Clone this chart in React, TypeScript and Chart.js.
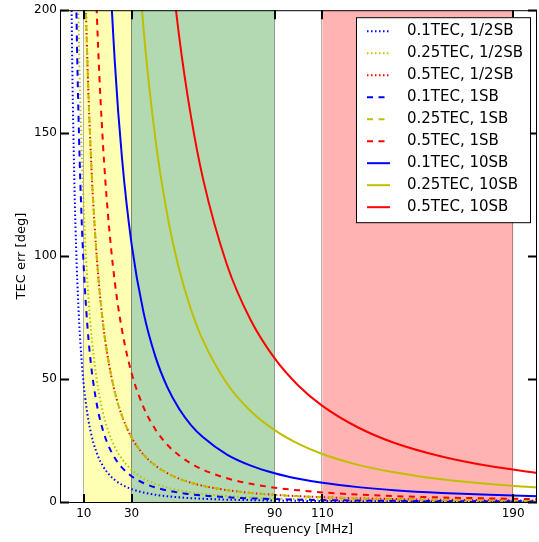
import React, { useEffect, useRef } from "react";
import { Chart, registerables } from "chart.js";
Chart.register(...registerables);

// Frequency samples [MHz]
const FREQ = [3, 4, 5, 6, 7, 8, 9, 10, 11, 12, 13, 14, 16, 18, 20, 23, 26, 30, 35, 40, 45, 50, 55, 60, 70, 80, 90, 100, 110, 125, 140, 160, 180, 200];

// TEC error [deg] per series
const TEC01_HALF = [525.2, 295.4, 189.1, 131.3, 96.5, 73.9, 58.4, 47.3, 39.1, 32.8, 28.0, 24.1, 18.5, 14.6, 11.8, 8.94, 6.99, 5.25, 3.86, 2.95, 2.33, 1.89, 1.56, 1.31, 0.96, 0.74, 0.58, 0.47, 0.39, 0.30, 0.24, 0.18, 0.15, 0.12];
const TEC025_HALF = [1312.9, 738.5, 472.6, 328.2, 241.1, 184.6, 145.9, 118.2, 97.7, 82.1, 69.9, 60.3, 46.2, 36.5, 29.5, 22.3, 17.5, 13.1, 9.65, 7.39, 5.84, 4.73, 3.91, 3.28, 2.41, 1.85, 1.46, 1.18, 0.98, 0.76, 0.60, 0.46, 0.36, 0.30];
const TEC05_HALF = [2625.9, 1477.1, 945.3, 656.5, 482.3, 369.3, 291.8, 236.3, 195.3, 164.1, 139.8, 120.6, 92.3, 72.9, 59.1, 44.7, 35.0, 26.3, 19.3, 14.8, 11.7, 9.45, 7.81, 6.56, 4.82, 3.69, 2.92, 2.36, 1.95, 1.51, 1.21, 0.92, 0.73, 0.59];
const TEC01_1SB = [1050.3, 590.8, 378.1, 262.6, 192.9, 147.7, 116.7, 94.5, 78.1, 65.6, 55.9, 48.2, 36.9, 29.2, 23.6, 17.9, 14.0, 10.5, 7.72, 5.91, 4.67, 3.78, 3.12, 2.63, 1.93, 1.48, 1.17, 0.95, 0.78, 0.60, 0.48, 0.37, 0.29, 0.24];
const TEC025_1SB = [2625.9, 1477.1, 945.3, 656.5, 482.3, 369.3, 291.8, 236.3, 195.3, 164.1, 139.8, 120.6, 92.3, 72.9, 59.1, 44.7, 35.0, 26.3, 19.3, 14.8, 11.7, 9.45, 7.81, 6.56, 4.82, 3.69, 2.92, 2.36, 1.95, 1.51, 1.21, 0.92, 0.73, 0.59];
const TEC05_1SB = [5252, 2954, 1891, 1313, 965, 739, 584, 472.7, 390.6, 328.2, 279.7, 241.2, 184.6, 145.9, 118.2, 89.3, 69.9, 52.5, 38.6, 29.5, 23.3, 18.9, 15.6, 13.1, 9.65, 7.39, 5.84, 4.73, 3.91, 3.02, 2.41, 1.85, 1.46, 1.18];
const TEC01_10SB = [10503, 5908, 3781, 2626, 1929, 1477, 1167, 945.3, 781.2, 656.5, 559.4, 482.3, 369.3, 291.8, 236.3, 178.7, 139.8, 105.0, 77.2, 59.1, 46.7, 37.8, 31.2, 26.3, 19.3, 14.8, 11.7, 9.45, 7.81, 6.05, 4.82, 3.69, 2.92, 2.36];
const TEC025_10SB = [26259, 14771, 9453, 6565, 4823, 3693, 2918, 2363, 1953, 1641, 1398, 1206, 923, 729, 591, 447, 350, 262.6, 192.9, 147.7, 116.7, 94.5, 78.1, 65.6, 48.2, 36.9, 29.2, 23.6, 19.5, 15.1, 12.1, 9.23, 7.29, 5.91];
const TEC05_10SB = [52517, 29541, 18906, 13129, 9646, 7385, 5835, 4727, 3906, 3282, 2797, 2412, 1846, 1459, 1182, 893, 699, 525, 385.8, 295.4, 233.4, 189.1, 156.3, 131.3, 96.5, 73.9, 58.4, 47.3, 39.1, 30.3, 24.1, 18.5, 14.6, 11.8];

const SERIES_LABELS = [
  "0.1TEC, 1/2SB", "0.25TEC, 1/2SB", "0.5TEC, 1/2SB",
  "0.1TEC, 1SB", "0.25TEC, 1SB", "0.5TEC, 1SB",
  "0.1TEC, 10SB", "0.25TEC, 10SB", "0.5TEC, 10SB",
];
const SERIES_VALUES = [
  TEC01_HALF, TEC025_HALF, TEC05_HALF,
  TEC01_1SB, TEC025_1SB, TEC05_1SB,
  TEC01_10SB, TEC025_10SB, TEC05_10SB,
];

// Shaded frequency bands [MHz]
const BAND_START = [10, 30, 110];
const BAND_END = [30, 90, 190];

const X_TICKS = [10, 30, 90, 110, 190];
const Y_TICKS = [0, 50, 100, 150, 200];

const COLORS = ["#0000ff", "#bfbf00", "#ff0000"];
const DASHES = [[1.5, 2.5], [6, 5.5], []];
const BAND_COLORS = ["#ffffb3", "#b3d9b3", "#ffb3b3"];
const FONT = "'DejaVu Sans', sans-serif";

const decor = {
  id: "decor",
  beforeDatasetsDraw(chart: any) {
    const { ctx, chartArea: ca, scales } = chart;
    const x = scales.x;
    ctx.save();
    BAND_START.forEach((s, k) => {
      const x1 = x.getPixelForValue(s);
      const x2 = x.getPixelForValue(BAND_END[k]);
      ctx.fillStyle = BAND_COLORS[k];
      ctx.fillRect(x1, ca.top, x2 - x1, ca.bottom - ca.top);
      ctx.strokeStyle = "rgba(0,0,0,0.3)";
      ctx.lineWidth = 1;
      ctx.beginPath();
      [x1, x2].forEach((px) => {
        const p = Math.round(px) - 0.5;
        ctx.moveTo(p, ca.top);
        ctx.lineTo(p, ca.bottom);
      });
      ctx.stroke();
    });
    ctx.restore();
  },
  afterDatasetsDraw(chart: any) {
    const { ctx, chartArea: ca, scales } = chart;
    const x = scales.x;
    const y = scales.y;
    ctx.save();
    // frame
    ctx.strokeStyle = "#000";
    ctx.lineWidth = 1;
    ctx.strokeRect(ca.left + 0.5, ca.top + 0.5, ca.right - ca.left - 1, ca.bottom - ca.top);
    // inward ticks
    const TL = 9;
    ctx.lineWidth = 2;
    ctx.beginPath();
    X_TICKS.forEach((v) => {
      const px = Math.round(x.getPixelForValue(v));
      ctx.moveTo(px, ca.bottom + 1);
      ctx.lineTo(px, ca.bottom + 1 - TL);
      ctx.moveTo(px, ca.top);
      ctx.lineTo(px, ca.top + TL);
    });
    Y_TICKS.forEach((v) => {
      const py = Math.round(y.getPixelForValue(v)) + 0.5;
      ctx.moveTo(ca.left, py);
      ctx.lineTo(ca.left + TL, py);
      ctx.moveTo(ca.right, py);
      ctx.lineTo(ca.right - TL, py);
    });
    ctx.stroke();

    // legend
    const lx = ca.right - 181;
    const ly = ca.top + 7;
    const lw = 174;
    const lh = 205;
    ctx.fillStyle = "#fff";
    ctx.fillRect(lx, ly, lw, lh);
    ctx.strokeStyle = "#000";
    ctx.lineWidth = 1;
    ctx.strokeRect(lx + 0.5, ly + 0.5, lw, lh);
    ctx.font = `15px ${FONT}`;
    ctx.textBaseline = "middle";
    ctx.textAlign = "left";
    SERIES_LABELS.forEach((lab, k) => {
      const ry = ly + 14 + k * 22;
      ctx.strokeStyle = COLORS[k % 3];
      ctx.lineWidth = 2;
      ctx.setLineDash(DASHES[Math.floor(k / 3)]);
      ctx.beginPath();
      ctx.moveTo(lx + 11, ry);
      ctx.lineTo(lx + 34, ry);
      ctx.stroke();
      ctx.setLineDash([]);
      ctx.fillStyle = "#000";
      ctx.fillText(lab, lx + 51, ry);
    });

    // axis titles
    ctx.font = `13px ${FONT}`;
    ctx.fillStyle = "#000";
    ctx.textAlign = "center";
    ctx.textBaseline = "alphabetic";
    ctx.fillText("Frequency [MHz]", (ca.left + ca.right) / 2, 533);
    ctx.translate(25, (ca.top + ca.bottom) / 2);
    ctx.rotate(-Math.PI / 2);
    ctx.fillText("TEC err [deg]", 0, 0);
    ctx.restore();
  },
};

export default function App() {
  const ref = useRef<HTMLCanvasElement>(null);
  useEffect(() => {
    const datasets = SERIES_VALUES.map((vals, k) => ({
      label: SERIES_LABELS[k],
      data: FREQ.map((f, i) => ({ x: f, y: vals[i] })),
      borderColor: COLORS[k % 3],
      borderWidth: 2,
      borderDash: DASHES[Math.floor(k / 3)],
      pointRadius: 0,
      fill: false,
      cubicInterpolationMode: "monotone" as const,
      clip: 0,
      order: 9 - k,
    }));
    const chart = new Chart(ref.current!, {
      type: "line",
      data: { datasets },
      plugins: [decor],
      options: {
        animation: false,
        responsive: false,
        devicePixelRatio: 1,
        layout: { padding: { top: 9, right: 2, left: 0, bottom: 0 } },
        plugins: { legend: { display: false }, tooltip: { enabled: false } },
        scales: {
          x: {
            type: "linear",
            min: 0,
            max: 200,
            afterBuildTicks: (s: any) => {
              s.ticks = X_TICKS.map((v) => ({ value: v }));
            },
            afterFit: (s: any) => {
              s.height = 40;
            },
            grid: { display: false, drawTicks: false },
            border: { display: false },
            ticks: {
              autoSkip: false,
              maxRotation: 0,
              padding: 5,
              color: "#000",
              font: { family: FONT, size: 12 },
            },
          },
          y: {
            type: "linear",
            min: 0,
            max: 200,
            afterBuildTicks: (s: any) => {
              s.ticks = Y_TICKS.map((v) => ({ value: v }));
            },
            afterFit: (s: any) => {
              s.width = 60;
            },
            grid: { display: false, drawTicks: false },
            border: { display: false },
            ticks: {
              padding: 3,
              color: "#000",
              font: { family: FONT, size: 12 },
            },
          },
        },
      },
    });
    return () => chart.destroy();
  }, []);
  return (
    <div style={{ position: "absolute", left: 0, top: 0, width: 539, height: 542 }}>
      <canvas ref={ref} width={539} height={542} />
    </div>
  );
}
